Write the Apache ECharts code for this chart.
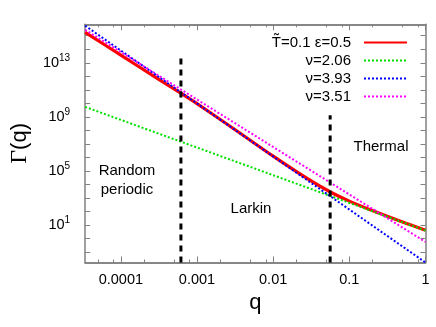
<!DOCTYPE html>
<html>
<head>
<meta charset="utf-8">
<script src="https://cdn.jsdelivr.net/npm/echarts@6/dist/echarts.min.js"></script>
<style>
  html, body { margin: 0; padding: 0; background: #fff; }
  #chart { width: 436px; height: 327px; }
</style>
</head>
<body>
<div id="chart"></div>
<script>
// axis ranges (log-log)
const qRange = [3.4e-5, 1];
const gammaRange = [0.0174, 7e15];

// tick positions / labels
const xMajorTicks = [1e-4, 1e-3, 1e-2, 1e-1, 1];
const xTickLabels = ['0.0001', '0.001', '0.01', '0.1', '1'];
const xMinorTicks = [5e-5, 8e-5, 2e-4, 5e-4, 8e-4, 2e-3, 5e-3, 8e-3, 2e-2, 5e-2, 8e-2, 0.2, 0.5, 0.8];
const yTicks = [0.1, 1, 10, 1e2, 1e3, 1e4, 1e5, 1e6, 1e7, 1e8, 1e9, 1e10, 1e11, 1e12, 1e13, 1e14, 1e15];
const yTickLabels = [10, 1e5, 1e9, 1e13];

// full curve, T~=0.1 eps=0.5
const qRed = [3.4e-5, 1e-4, 3e-4, 6.2e-4, 1e-3, 3e-3, 0.01, 0.03, 0.058, 0.1, 0.2, 0.5, 1];
const gammaRed = [1.8e15, 3.7e13, 7.1e11, 5.4e10, 9.5e9, 1.4e8, 1.26e6, 2.2e4, 2.6e3, 600, 120, 17, 4.2];

// power law fits
const qFit = [3.4e-5, 1];
const gammaNu206 = [5.5e9, 4.0];
const gammaNu393 = [5.5e15, 0.0174];
const gammaNu351 = [2.75e15, 0.575];

// regime boundaries
const qBound1 = 6.15e-4;
const gammaBound1 = 3.7e13;
const qBound2 = 0.056;
const gammaBound2 = 1.35e9;

const regionNames = ['Random\nperiodic', 'Larkin', 'Thermal'];

const pairs = (xs, ys) => xs.map((x, i) => [x, ys[i]]);
const grey = '#808080';
const font = 'Liberation Sans, Arial, sans-serif';
const near = (a, b) => Math.abs(Math.log10(a) - Math.log10(b)) < 1e-6;

const chart = echarts.init(document.getElementById('chart'));

function xAxisOf(position, tickValues, tickLen) {
  return {
    type: 'log',
    logBase: 10,
    min: qRange[0],
    max: qRange[1],
    position: position,
    axisLine: { show: true, lineStyle: { color: grey, width: 1.5 } },
    axisTick: { show: true, inside: true, length: tickLen, customValues: tickValues, lineStyle: { color: grey } },
    axisLabel: { show: false },
    splitLine: { show: false }
  };
}
function yAxisOf(position) {
  return {
    type: 'log',
    logBase: 10,
    min: gammaRange[0],
    max: gammaRange[1],
    position: position,
    axisLine: { show: true, lineStyle: { color: grey, width: 1.5 } },
    axisTick: { show: true, inside: true, length: 5, customValues: yTicks, lineStyle: { color: grey } },
    axisLabel: { show: false },
    splitLine: { show: false }
  };
}

const xMain = xAxisOf('bottom', xMajorTicks, 6);
xMain.name = 'q';
xMain.nameLocation = 'middle';
xMain.nameGap = 24;
xMain.nameTextStyle = { fontSize: 22, color: '#000', fontFamily: font };
xMain.axisLabel = {
  show: true,
  customValues: xMajorTicks,
  margin: 10,
  fontSize: 14.5,
  color: '#000',
  fontFamily: font,
  formatter: function (v) {
    const k = xMajorTicks.findIndex(t => near(t, v));
    return k >= 0 ? xTickLabels[k] : '';
  }
};

const yMain = yAxisOf('left');
yMain.name = '{g|Γ}(q)';
yMain.nameLocation = 'middle';
yMain.nameGap = 53;
yMain.nameRotate = 90;
yMain.nameTextStyle = {
  fontSize: 22, color: '#000', fontFamily: font,
  rich: { g: { fontSize: 24, fontFamily: 'Liberation Serif, serif', color: '#000' } }
};
yMain.axisLabel = {
  show: true,
  customValues: yTickLabels,
  margin: 15,
  color: '#000',
  fontFamily: font,
  formatter: function (v) {
    return '{b|10}{s|' + Math.round(Math.log10(v)) + '}';
  },
  rich: {
    b: { fontSize: 14.5, fontFamily: font, color: '#000' },
    s: { fontSize: 10, fontFamily: font, color: '#000', padding: [0, 0, 9, 0] }
  }
};

const option = {
  animation: false,
  backgroundColor: '#fff',
  grid: { left: 74, right: 10.5, top: 24.3, bottom: 64.5 },
  xAxis: [
    xMain,
    xAxisOf('bottom', xMinorTicks, 3),
    xAxisOf('top', xMajorTicks, 6),
    xAxisOf('top', xMinorTicks, 3)
  ],
  yAxis: [
    yMain,
    yAxisOf('right')
  ],
  legend: {
    orient: 'vertical',
    right: 23,
    top: 30,
    align: 'right',
    itemWidth: 43,
    itemHeight: 12,
    itemGap: 3,
    itemStyle: { opacity: 0, borderWidth: 0 },
    textStyle: { fontSize: 15, color: '#000', fontFamily: font, padding: [0, 8, 0, 0] },
    data: ['T\u0303=0.1 \u03b5=0.5', '\u03bd=2.06', '\u03bd=3.93', '\u03bd=3.51']
  },
  series: [
    {
      name: 'T\u0303=0.1 \u03b5=0.5',
      type: 'line',
      data: pairs(qRed, gammaRed),
      smooth: 0.3,
      symbol: 'none',
      lineStyle: { color: '#ff0000', width: 3.2 },
      itemStyle: { color: '#ff0000' }
    },
    {
      name: '\u03bd=2.06',
      type: 'line',
      data: pairs(qFit, gammaNu206),
      symbol: 'none',
      lineStyle: { color: '#00e000', width: 2, type: [2, 2] },
      itemStyle: { color: '#00e000' }
    },
    {
      name: '\u03bd=3.93',
      type: 'line',
      data: pairs(qFit, gammaNu393),
      symbol: 'none',
      lineStyle: { color: '#0000ff', width: 2, type: [2, 2] },
      itemStyle: { color: '#0000ff' }
    },
    {
      name: '\u03bd=3.51',
      type: 'line',
      data: pairs(qFit, gammaNu351),
      symbol: 'none',
      lineStyle: { color: '#ff00ff', width: 2, type: [2, 2] },
      itemStyle: { color: '#ff00ff' }
    },
    {
      name: 'bound1',
      type: 'line',
      data: [[qBound1, gammaRange[0]], [qBound1, gammaBound1]],
      symbol: 'none',
      lineStyle: { color: '#000', width: 3, type: [6, 5] },
      z: 3
    },
    {
      name: 'bound2',
      type: 'line',
      data: [[qBound2, gammaRange[0]], [qBound2, gammaBound2]],
      symbol: 'none',
      lineStyle: { color: '#000', width: 3, type: [6, 5] },
      z: 3
    }
  ],
  graphic: [
    {
      type: 'text', x: 127, y: 180,
      style: { text: regionNames[0], font: '15px ' + font, fill: '#000', align: 'center', verticalAlign: 'middle', lineHeight: 19 }
    },
    {
      type: 'text', x: 251, y: 209,
      style: { text: regionNames[1], font: '15px ' + font, fill: '#000', align: 'center', verticalAlign: 'middle' }
    },
    {
      type: 'text', x: 381, y: 147,
      style: { text: regionNames[2], font: '15px ' + font, fill: '#000', align: 'center', verticalAlign: 'middle' }
    }
  ]
};

chart.setOption(option);
</script>
</body>
</html>
